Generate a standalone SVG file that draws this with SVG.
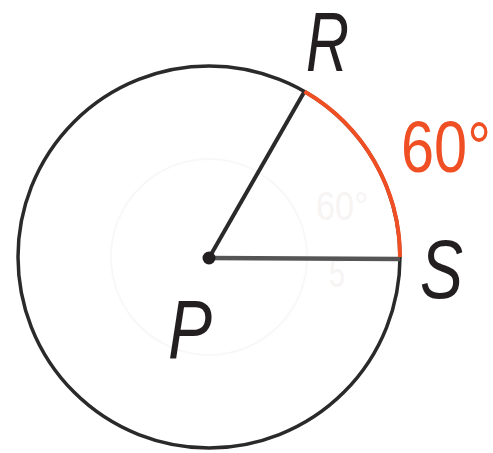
<svg xmlns="http://www.w3.org/2000/svg" width="493" height="453" viewBox="0 0 493 453">
<style>
.lbl{font-family:"Liberation Sans",Arial,sans-serif;font-style:italic;fill:#231f20;font-size:84px}
.ghost{font-family:"Liberation Sans",Arial,sans-serif;fill:#f7f4f4;font-size:40px}
</style>
<rect width="493" height="453" fill="#fff"/>
<g id="ghost">
<circle cx="209" cy="257" r="98" fill="none" stroke="#f8f8f8" stroke-width="2"/>
<text class="ghost" x="316" y="220" textLength="52" lengthAdjust="spacingAndGlyphs">60°</text>
<text class="ghost" x="329" y="287" font-size="32" textLength="16" lengthAdjust="spacingAndGlyphs">5</text>
</g>
<g id="circle">
<circle cx="209" cy="257" r="191" fill="none" stroke="#2a2a2a" stroke-width="3.5"/>
</g>
<g id="connectors">
<line x1="209" y1="258" x2="304.5" y2="91.6" stroke="#2a2a2a" stroke-width="4"/>
<line x1="209" y1="258" x2="400" y2="259" stroke="#555" stroke-width="4.5"/>
<path d="M304.5 91.6 A191 191 0 0 1 400 257" fill="none" stroke="#f04e23" stroke-width="4"/>
</g>
<g id="P">
<circle cx="209" cy="258" r="6.5" fill="#231f20"/>
<text class="lbl" x="168" y="358" textLength="44" lengthAdjust="spacingAndGlyphs">P</text>
</g>
<g id="R">
<text class="lbl" x="306" y="71" textLength="43" lengthAdjust="spacingAndGlyphs">R</text>
</g>
<g id="S">
<text class="lbl" x="420" y="298" textLength="43" lengthAdjust="spacingAndGlyphs">S</text>
</g>
<g id="angle">
<text x="401" y="172" font-family="Liberation Sans,Arial,sans-serif" font-size="72" fill="#f04e23" textLength="90" lengthAdjust="spacingAndGlyphs">60°</text>
</g>
</svg>
